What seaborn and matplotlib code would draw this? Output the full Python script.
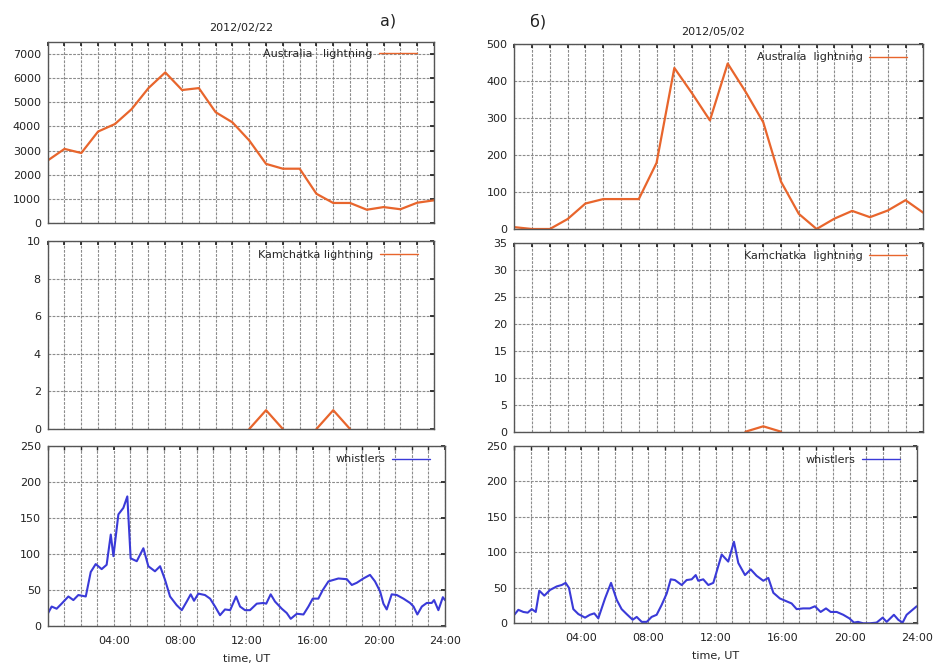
import matplotlib
matplotlib.use("Agg")
import matplotlib.pyplot as plt
from matplotlib.lines import Line2D
from matplotlib.ticker import MultipleLocator
import pandas as pd
import seaborn as sns


ORANGE = "#e8652c"
BLUE = "#3a3ad8"
GRID = "#8c8c8c"

HOURS = list(range(24))

# panel a) 2012/02/22
aus_a = [2590, 3070, 2900, 3790, 4100, 4720, 5590, 6240, 5510, 5590, 4590, 4170,
         3420, 2450, 2250, 2250, 1210, 830, 830, 550, 660, 570, 840, 940]
kam_a = [0, 0, 0, 0, 0, 0, 0, 0, 0, 0, 0, 0, 0, 1, 0, 0, 0, 1, 0, 0, 0, 0, 0, 0]
wh_a_t = [0.00, 0.24, 0.54, 0.84, 1.25, 1.55, 1.85, 2.30, 2.60, 2.90, 3.26, 3.56,
          3.81, 3.97, 4.27, 4.57, 4.81, 5.01, 5.38, 5.78, 6.08, 6.48, 6.79, 7.09,
          7.39, 7.79, 8.10, 8.40, 8.64, 8.84, 9.10, 9.50, 9.81, 10.11, 10.41, 10.71,
          11.02, 11.38, 11.62, 11.92, 12.22, 12.63, 13.03, 13.20, 13.47, 13.73, 14.14,
          14.44, 14.68, 15.05, 15.45, 15.75, 16.01, 16.35, 16.62, 16.96, 17.26, 17.56,
          18.07, 18.37, 18.67, 19.07, 19.47, 19.77, 20.08, 20.28, 20.48, 20.78, 21.09,
          21.49, 21.89, 22.10, 22.33, 22.60, 22.90, 23.20, 23.34, 23.60, 23.87, 24.00]
wh_a_v = [17, 27, 24, 31, 41, 36, 43, 41, 75, 86, 79, 85,
          127, 97, 155, 164, 180, 94, 90, 108, 83, 76, 83, 64,
          41, 29, 22, 34, 44, 35, 45, 43, 38, 27, 15, 23,
          22, 41, 27, 22, 22, 31, 32, 31, 44, 34, 24,
          18, 10, 17, 16, 27, 38, 38, 50, 62, 64, 66,
          65, 57, 60, 66, 71, 62, 48, 31, 23, 44, 43,
          38, 32, 27, 16, 27, 32, 32, 36, 22, 40, 36]

# panel б) 2012/05/02
aus_b = [5, 0, 0, 27, 69, 81, 81, 81, 179, 436, 367, 294,
         448, 372, 289, 128, 41, 0, 28, 49, 32, 50, 78, 44]
kam_b = [0, 0, 0, 0, 0, 0, 0, 0, 0, 0, 0, 0, 0, 0, 1, 0, 0, 0, 0, 0, 0, 0, 0, 0]
wh_b_t = [0.00, 0.24, 0.54, 0.80, 1.04, 1.28, 1.49, 1.79, 2.13, 2.53, 2.83, 3.06,
          3.26, 3.52, 3.82, 4.22, 4.51, 4.77, 5.01, 5.41, 5.77, 6.11, 6.40, 6.70,
          7.06, 7.30, 7.60, 7.90, 8.19, 8.49, 8.79, 9.09, 9.33, 9.58, 9.98, 10.28,
          10.58, 10.82, 10.97, 11.27, 11.57, 11.87, 12.37, 12.76, 13.10, 13.36, 13.76,
          14.10, 14.45, 14.85, 15.15, 15.45, 15.84, 16.24, 16.54, 16.84, 17.23, 17.63,
          17.93, 18.27, 18.59, 18.87, 19.23, 19.62, 19.98, 20.26, 20.50, 20.81, 21.20,
          21.61, 21.97, 22.21, 22.64, 22.90, 23.16, 23.40, 23.70, 24.00]
wh_b_v = [12, 19, 16, 15, 20, 16, 46, 39, 47, 52, 54, 57,
          50, 20, 13, 8, 12, 14, 7, 35, 57, 33, 20, 13,
          5, 9, 2, 2, 9, 12, 26, 42, 62, 61, 54, 61,
          62, 68, 60, 62, 54, 57, 97, 87, 115, 85, 68,
          76, 67, 60, 64, 43, 35, 31, 28, 20, 21, 21,
          24, 16, 21, 16, 16, 12, 7, 1, 2, 0, 0,
          1, 8, 2, 12, 5, 1, 12, 18, 24]

TIME_TICKS = [4, 8, 12, 16, 20, 24]
TIME_LABELS = ["04:00", "08:00", "12:00", "16:00", "20:00", "24:00"]


def nonzero_runs(hours, values):
    # keep only the stretches around non-zero counts (zeros sit on the border)
    df = pd.DataFrame({"hour": hours, "value": values})
    near = df["value"].rolling(3, center=True, min_periods=1).max() > 0
    df = df[near].copy()
    df["seg"] = (df["hour"].diff() != 1).cumsum()
    return df


def style_axes(ax, xmax, ymax, ystep):
    ax.set_xlim(0, xmax)
    ax.set_ylim(0, ymax)
    ax.xaxis.set_major_locator(MultipleLocator(1))
    ax.yaxis.set_major_locator(MultipleLocator(ystep))
    ax.grid(True, which="major", color=GRID, linewidth=0.8, linestyle=(0, (2.5, 1.2)))
    ax.tick_params(direction="in", length=3, top=True, right=True, labelsize=8,
                   colors="#222222", pad=5)
    ax.tick_params(axis="x", labelbottom=False)
    for sp in ax.spines.values():
        sp.set_color("#555555")
        sp.set_linewidth(1.0)
        sp.set_zorder(5)
    ax.set_xlabel("")
    ax.set_ylabel("")


def add_legend(ax, label, color, xr, yt):
    handle = Line2D([], [], color=color, linewidth=1.0)
    ax.legend(handles=[handle], labels=[label], loc="upper right",
              bbox_to_anchor=(xr, yt), borderaxespad=0, borderpad=0,
              frameon=False, markerfirst=False, handlelength=3.4,
              handletextpad=0.6, fontsize=8)


def time_axis(ax):
    ax.set_xticks(TIME_TICKS)
    ax.set_xticklabels(TIME_LABELS)
    ax.set_xticks(range(25), minor=True)
    ax.grid(True, which="minor", axis="x", color=GRID, linewidth=0.8,
            linestyle=(0, (2.5, 1.2)))
    ax.tick_params(axis="x", which="both", labelbottom=True, pad=7, direction="in",
                   top=True, length=3)
    ax.set_xlabel("time, UT", fontsize=8, labelpad=6, color="#222222")


sns.set_theme(style="white")
plt.rcParams["font.family"] = ["DejaVu Sans"]

fig = plt.figure(figsize=(9.34, 6.70), dpi=100)


def px_axes(x0, x1, y0, y1):
    return fig.add_axes([x0 / 934, 1 - y1 / 670, (x1 - x0) / 934, (y1 - y0) / 670])


# left column
ax = px_axes(47.7, 434, 42, 223)
sns.lineplot(x=HOURS, y=aus_a, ax=ax, color=ORANGE, linewidth=1.6)
style_axes(ax, 23, 7500, 1000)
add_legend(ax, "Australia   lightning", ORANGE, 0.956, 0.961)

ax = px_axes(47.7, 434, 241, 429)
runs = nonzero_runs(HOURS, kam_a)
sns.lineplot(data=runs, x="hour", y="value", units="seg", estimator=None, ax=ax,
             color=ORANGE, linewidth=1.6)
style_axes(ax, 23, 10, 2)
add_legend(ax, "Kamchatka lightning", ORANGE, 0.958, 0.953)

ax = px_axes(47.7, 445, 446, 626)
sns.lineplot(x=wh_a_t, y=wh_a_v, ax=ax, color=BLUE, linewidth=1.5,
             estimator=None, sort=False)
style_axes(ax, 24, 250, 50)
time_axis(ax)
add_legend(ax, "whistlers", BLUE, 0.962, 0.953)

# right column
ax = px_axes(514.3, 923.3, 44.3, 229)
sns.lineplot(x=HOURS, y=aus_b, ax=ax, color=ORANGE, linewidth=1.6)
style_axes(ax, 23, 500, 100)
add_legend(ax, "Australia  lightning", ORANGE, 0.960, 0.956)

ax = px_axes(514.3, 923.3, 243.3, 431.7)
runs = nonzero_runs(HOURS, kam_b)
sns.lineplot(data=runs, x="hour", y="value", units="seg", estimator=None, ax=ax,
             color=ORANGE, linewidth=1.6)
style_axes(ax, 23, 35, 5)
add_legend(ax, "Kamchatka  lightning", ORANGE, 0.960, 0.958)

ax = px_axes(514.3, 916.7, 446, 623.3)
sns.lineplot(x=wh_b_t, y=wh_b_v, ax=ax, color=BLUE, linewidth=1.5,
             estimator=None, sort=False)
style_axes(ax, 24, 250, 50)
time_axis(ax)
add_legend(ax, "whistlers", BLUE, 0.958, 0.952)

fig.text(241 / 934, 1 - 28 / 670, "2012/02/22", fontsize=8, ha="center", va="center",
         color="#222222")
fig.text(713 / 934, 1 - 32 / 670, "2012/05/02", fontsize=8, ha="center", va="center",
         color="#222222")
fig.text(388 / 934, 1 - 21 / 670, "a)", fontsize=11.5, ha="center", va="center",
         color="#222222")
fig.text(538 / 934, 1 - 22 / 670, "б)", fontsize=11.5, ha="center", va="center",
         color="#222222")

fig.savefig("out.png", dpi=100)
